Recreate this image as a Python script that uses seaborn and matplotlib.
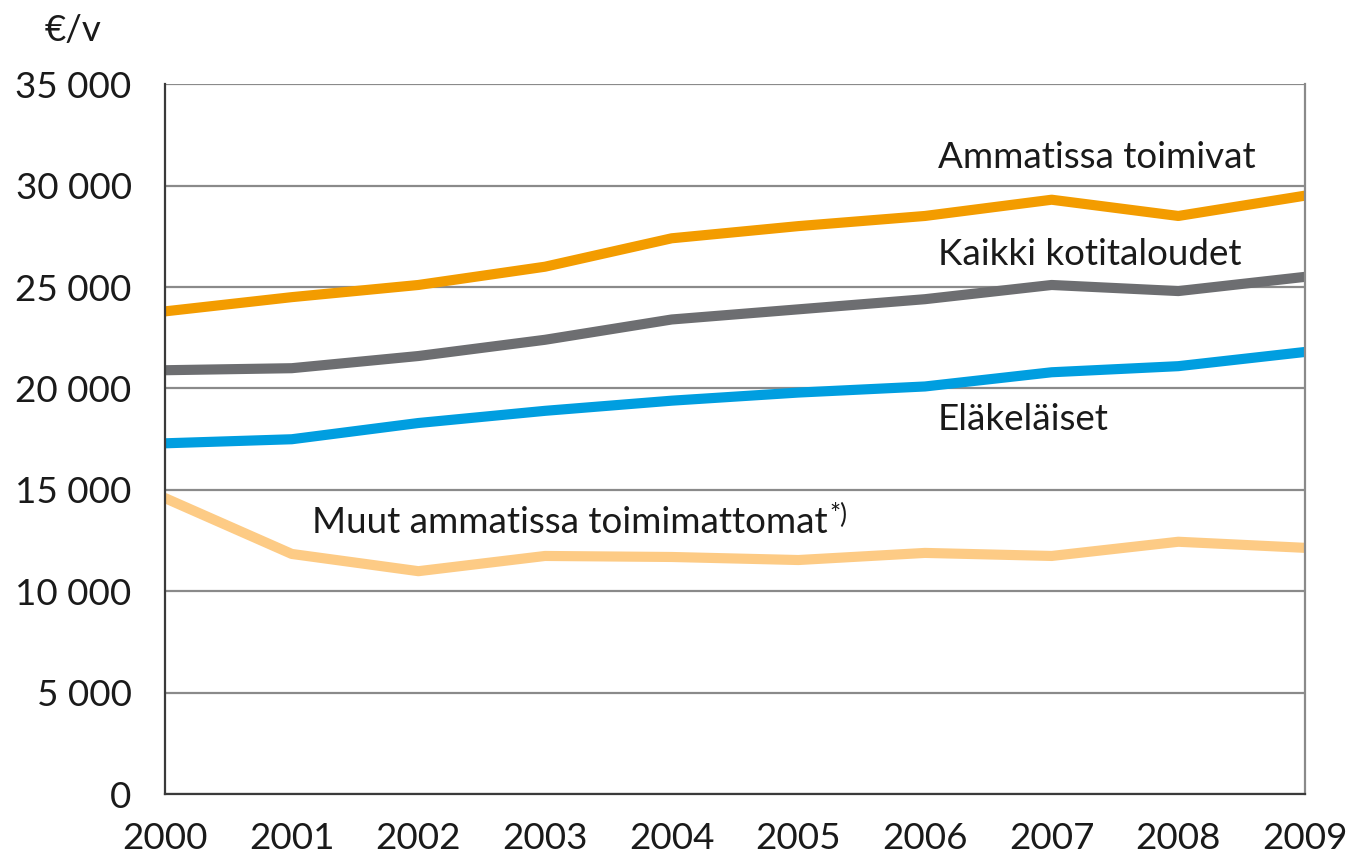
import numpy as np
import pandas as pd
import matplotlib
matplotlib.use('Agg')
import matplotlib.pyplot as plt
from matplotlib.ticker import FuncFormatter
import seaborn as sns

# Data (euro per year)
years = [2000, 2001, 2002, 2003, 2004, 2005, 2006, 2007, 2008, 2009]
ammatissa = [23800, 24500, 25100, 26000, 27400, 28000, 28500, 29300, 28500, 29500]
kaikki = [20900, 21000, 21600, 22400, 23400, 23900, 24400, 25100, 24800, 25500]
elakelaiset = [17300, 17500, 18300, 18900, 19400, 19800, 20100, 20800, 21100, 21800]
muut = [14600, 11850, 11000, 11750, 11700, 11550, 11900, 11750, 12450, 12150]

series_names = ['Ammatissa toimivat', 'Kaikki kotitaloudet', 'Eläkeläiset',
                'Muut ammatissa toimimattomat']
colors = ['#F39C00', '#6D6E71', '#009EE0', '#FDCB85']

df = pd.DataFrame({
    'vuosi': years * 4,
    'arvo': ammatissa + kaikki + elakelaiset + muut,
    'ryhma': np.repeat(series_names, len(years)),
})

sns.set_style('white')
plt.rcParams['font.family'] = ['Lato', 'DejaVu Sans']

fig = plt.figure(figsize=(13.53, 8.6), dpi=100)
ax = fig.add_axes([0.122, 0.0762, 0.8425, 0.8261])

sns.lineplot(data=df, x='vuosi', y='arvo', hue='ryhma', palette=colors,
             hue_order=series_names, linewidth=7.3, legend=False, ax=ax,
             solid_capstyle='round', solid_joinstyle='round')

ax.set_xlim(2000, 2009)
ax.set_ylim(0, 35000)
ax.set_xticks(years)
ax.set_yticks(range(0, 35001, 5000))
ax.yaxis.set_major_formatter(FuncFormatter(lambda v, p: f'{int(v):,}'.replace(',', ' ')))
ax.set_xlabel('')
ax.set_ylabel('')

ax.grid(axis='y', color='#8a8a8a', linewidth=1.6)
ax.set_axisbelow(True)
for s in ['left', 'bottom']:
    ax.spines[s].set_color('#3a3a3a')
    ax.spines[s].set_linewidth(1.6)
ax.spines['right'].set_color('#8a8a8a')
ax.spines['right'].set_linewidth(1.6)
ax.spines['top'].set_visible(False)

ax.tick_params(axis='y', length=14, width=1.6, color='#8a8a8a', pad=10,
               labelsize=26.5, labelcolor='#1a1a1a')
ax.tick_params(axis='x', length=12, width=1.6, color='#8a8a8a', pad=8,
               labelsize=26.5, labelcolor='#1a1a1a')

# Line labels
lab_kw = dict(fontsize=26.5, color='#1a1a1a', va='center', ha='left')
ax.text(2006.1, 31400, 'Ammatissa toimivat', **lab_kw)
ax.text(2006.1, 26600, 'Kaikki kotitaloudet', **lab_kw)
ax.text(2006.1, 18450, 'Eläkeläiset', **lab_kw)
t = ax.text(2001.16, 13400, 'Muut ammatissa toimimattomat', **lab_kw)
ax.annotate('*)', xy=(1, 1.08), xycoords=t, xytext=(1, 0), textcoords='offset points',
            fontsize=19, color='#1a1a1a', va='top', ha='left')

fig.text(0.033, 0.965, '€/v', fontsize=26.5, color='#1a1a1a', va='center', ha='left')

fig.savefig('out.png', dpi=100)
